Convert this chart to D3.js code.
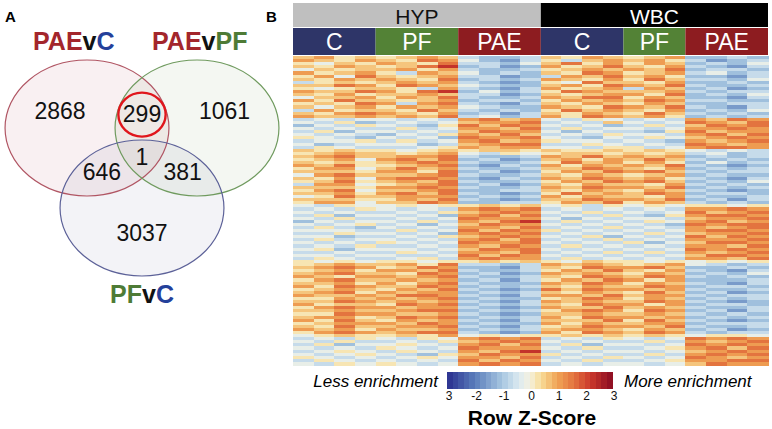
<!DOCTYPE html>
<html>
<head>
<meta charset="utf-8">
<script src="https://cdn.jsdelivr.net/npm/d3@7"></script>
<style>
body{margin:0;background:#fff;}
svg{display:block;font-family:"Liberation Sans",Arial,sans-serif;}
</style>
</head>
<body>
<svg id="fig" width="772" height="429"></svg>
<script>
var svg = d3.select('#fig');

// ---- panel A : venn ----
var sets = ["PAEvC", "PAEvPF", "PFvC"];
var setTitles = [
	[["PAE", "#a3262c"], ["v", "#111"], ["C", "#24409a"]],
	[["PAE", "#a3262c"], ["v", "#111"], ["PF", "#4e7b36"]],
	[["PF", "#4e7b36"], ["v", "#111"], ["C", "#24409a"]]
];
var regions = ["PAEvC only", "PAEvC+PAEvPF", "PAEvPF only", "all", "PAEvC+PFvC", "PAEvPF+PFvC", "PFvC only"];
var counts = [2868, 299, 1061, 1, 646, 381, 3037];

// ---- panel B : heatmap ----
var tissues = ["HYP", "WBC"];
var groups = ["C", "PF", "PAE", "C", "PF", "PAE"];
var groupTissue = [0, 0, 0, 1, 1, 1];
var groupSize = [4, 4, 4, 4, 3, 4];
var legendTicks = ["3", "-2", "-1", "0", "1", "2", "3"];
var zLevels = [-2.2, -1.6, -1.1, -0.65, -0.2, 0.25, 0.65, 1.1, 1.6, 2.3];
// one string per gene row, one digit per sample (index into zLevels)
// columns: HYP C | HYP PF | HYP PAE | WBC C | WBC PF | WBC PAE
var rows = [
"6756 5676 3223 6576 567 2232",
"7657 6587 4213 5367 675 3123",
"5465 7658 3324 6857 576 2324",
"6576 5689 2312 7568 657 3213",
"4656 6757 3223 5676 768 2332",
"7567 5376 4232 6587 567 3423",
"5748 6567 3312 3768 675 2213",
"6576 7658 2323 7657 586 3324",
"3565 6767 3212 5486 657 2232",
"6687 5876 4322 6758 768 3223",
"5456 6537 3213 7567 376 2312",
"7668 7589 2423 5876 667 3233",
"6575 6676 3312 6567 758 2324",
"4667 5768 3223 7688 576 2213",
"7586 6567 2332 5767 687 3322",
"5658 7378 3213 6576 576 2233",
"6467 5767 4322 7658 768 3213",
"3756 6586 3232 5867 657 2324",
"6578 7657 2313 6576 586 3232",
"7667 6768 3423 7587 675 2323",
"3434 4343 7867 4354 343 7687",
"4352 3434 6778 3436 434 8768",
"2435 4325 8687 4342 353 6878",
"4343 3534 7768 3534 434 7787",
"3524 4343 6877 4243 325 8677",
"4343 2435 7686 3435 443 7868",
"5432 4342 8778 4324 354 6787",
"3445 3534 7867 5443 432 7678",
"4234 4423 6788 3354 343 8767",
"3543 3345 7677 4435 534 7887",
"6565 5456 5665 6556 565 4343",
"5676 6567 4354 5665 656 3423",
"6786 6778 3223 7686 767 2323",
"5674 7868 2312 6757 686 3232",
"6565 6787 3223 5867 575 2423",
"7685 5678 2132 7576 768 3212",
"5774 6867 3223 6687 657 2323",
"6665 7758 2312 5768 786 3233",
"4786 6678 3223 6576 567 2322",
"6574 7887 2132 7687 675 3213",
"5685 6768 3223 5768 786 2324",
"3774 5678 2312 6576 657 3232",
"6665 7787 3223 7687 768 2323",
"5784 6678 2233 6576 576 3212",
"6675 7868 3212 5867 687 2332",
"4586 6777 2323 7576 657 3223",
"6665 5768 3212 6687 768 2313",
"5774 6687 2233 5768 576 3232",
"4354 4545 5656 4535 454 5545",
"3435 4343 7878 3434 343 7787",
"4343 3435 6787 4353 434 8678",
"3524 4342 7868 3435 325 7887",
"4353 3434 8777 4243 443 6778",
"2434 4353 7689 3534 354 7867",
"4345 3424 6877 4343 432 8788",
"3532 4343 7768 3435 343 7678",
"4443 3534 8687 5343 434 7887",
"3354 4342 7878 3434 353 6778",
"4423 3435 6787 4352 434 8687",
"3534 4343 7868 3435 343 7778",
"4343 5434 8778 4343 524 6887",
"3435 3343 7687 3534 343 7768",
"4524 4434 6878 4343 434 8787",
"3343 3543 7768 3435 353 7678",
"4434 4334 8687 4343 434 6887",
"3543 3453 7877 3534 343 7768",
"5454 5545 5656 5465 545 4545",
"5676 6758 3323 7676 567 4323",
"6787 5687 2213 6587 786 2232",
"5675 7768 3223 5768 657 3213",
"6786 6587 2312 7676 576 2324",
"7657 7678 3223 6587 687 3232",
"5786 6767 2313 5768 757 2223",
"6675 7578 3222 7687 576 3213",
"7587 6687 2323 6576 687 2332",
"5676 5768 3212 8687 767 3223",
"6785 7677 2323 6576 586 2312",
"7667 6887 3213 7768 677 3233",
"5576 7678 2322 5687 576 2323",
"6687 6767 3213 7676 687 3212",
"7566 5878 2323 6587 757 2332",
"5787 7677 3212 7668 676 3223",
"6676 6788 2323 5787 587 2313",
"5587 7667 3212 6676 676 3232",
"6775 6878 2323 7587 767 2323",
"7586 5767 3213 6668 586 3212",
"5677 7687 2322 7576 677 2333",
"6586 6778 3213 5687 768 3223",
"7675 7667 2323 6776 576 2312",
"5787 6788 3212 7587 687 3233",
"4565 5657 4545 5656 565 4554",
"3435 4354 7878 3435 434 8787",
"4353 3435 6787 4343 353 7678",
"3524 4543 7868 3524 434 8787",
"4343 5434 8777 4353 345 7868",
"3454 3543 7689 3434 434 6787",
"4345 4325 6877 5343 353 7878",
"5434 3454 7768 3435 434 8767",
"3543 4343 8687 4353 345 7788",
"4354 5434 7878 3434 434 6877"
];

// ================= panel A =================
var vx = d3.scaleLinear().domain([-1, 3]).range([32, 252]);
var vy = d3.scaleLinear().domain([0, 1]).range([128, 208]);

// unit layout for a 3-set venn
var ellipses = [
	{cx: 0, cy: 0, fill: "rgba(170,60,80,0.075)", stroke: "#b05563"},
	{cx: 2, cy: 0, fill: "rgba(100,140,70,0.07)", stroke: "#6f9a5e"},
	{cx: 1, cy: 1, fill: "rgba(80,80,140,0.065)", stroke: "#5c6198"}
];
var rxU = 1.49, ryU = 0.85;
var regionPos = [[-0.49, -0.21], [1, -0.18], [2.5, -0.21], [1, 0.36], [0.27, 0.55], [1.74, 0.55], [1, 1.31]];
var titlePos = [[-0.24, -0.975], [2.05, -0.975], [1, 2.19]];

var venn = svg.append("g");

venn.selectAll("ellipse.fill")
	.data(ellipses)
	.enter()
	.append("ellipse")
	.attr("class", "fill")
	.attr("cx", function(d){return vx(d.cx);})
	.attr("cy", function(d){return vy(d.cy);})
	.attr("rx", vx(rxU) - vx(0))
	.attr("ry", vy(ryU) - vy(0))
	.attr("fill", function(d){return d.fill;})
	.attr("stroke", "none");

venn.selectAll("ellipse.line")
	.data(ellipses)
	.enter()
	.append("ellipse")
	.attr("class", "line")
	.attr("cx", function(d){return vx(d.cx);})
	.attr("cy", function(d){return vy(d.cy);})
	.attr("rx", vx(rxU) - vx(0))
	.attr("ry", vy(ryU) - vy(0))
	.attr("fill", "none")
	.attr("stroke", function(d){return d.stroke;})
	.attr("stroke-width", 1.2);

// highlight on the shared PAE set
venn.append("ellipse")
	.attr("cx", vx(regionPos[1][0]))
	.attr("cy", vy(regionPos[1][1]) + 1)
	.attr("rx", vx(0.43) - vx(0))
	.attr("ry", vy(0.275) - vy(0))
	.attr("fill", "none")
	.attr("stroke", "#e0161c")
	.attr("stroke-width", 2.4);

venn.selectAll("text.count")
	.data(counts)
	.enter()
	.append("text")
	.attr("class", "count")
	.attr("x", function(d, i){return vx(regionPos[i][0]);})
	.attr("y", function(d, i){return vy(regionPos[i][1]);})
	.attr("dy", "0.36em")
	.attr("text-anchor", "middle")
	.style("font-size", "23px")
	.style("fill", "#111")
	.text(function(d){return d;});

venn.selectAll("text.title")
	.data(sets)
	.enter()
	.append("text")
	.attr("class", "title")
	.attr("x", function(d, i){return vx(titlePos[i][0]);})
	.attr("y", function(d, i){return vy(titlePos[i][1]);})
	.attr("text-anchor", "middle")
	.style("font-size", "25px")
	.style("font-weight", "bold")
	.each(function(d, i){
		d3.select(this).selectAll("tspan")
			.data(setTitles[i])
			.enter()
			.append("tspan")
			.attr("fill", function(p){return p[1];})
			.text(function(p){return p[0];});
	});

svg.append("text").attr("x", 5).attr("y", 22)
	.style("font-size", "15px").style("font-weight", "bold").text("A");
svg.append("text").attr("x", 266).attr("y", 22)
	.style("font-size", "15px").style("font-weight", "bold").text("B");

// ================= panel B =================
var data = rows.map(function(s){
	return s.replace(/ /g, "").split("").map(function(ch){return zLevels[+ch];});
});
var nCol = data[0].length;

var color = d3.scaleLinear()
	.domain([-3, -2, -1, -0.4, 0, 0.4, 1, 1.6, 2.2, 3])
	.range(["#2a2f8e", "#5a7dbb", "#a8c7e1", "#dceaf1", "#f4f1df", "#f8dd98", "#f0a456", "#e3743f", "#cb392c", "#8a0b22"])
	.clamp(true);

var x = d3.scaleBand().domain(d3.range(nCol)).range([293, 768]);
var y = d3.scaleBand().domain(d3.range(data.length)).range([56, 365]);

var heat = svg.append("g").attr("shape-rendering", "crispEdges");
heat.selectAll("g")
	.data(data)
	.enter()
	.append("g")
	.each(function(row, r){
		d3.select(this).selectAll("rect")
			.data(row)
			.enter()
			.append("rect")
			.attr("x", function(v, c){return x(c);})
			.attr("y", y(r))
			.attr("width", x.bandwidth() + 0.5)
			.attr("height", y.bandwidth() + 0.5)
			.attr("fill", function(v){return color(v);});
	});

// sample group headers
var starts = [];
var acc = 0;
groupSize.forEach(function(n){starts.push(acc); acc += n;});
var groupColor = {"C": "#2e3568", "PF": "#538236", "PAE": "#8d1c20"};

var tissueSpan = tissues.map(function(t, ti){
	var idx = d3.range(groups.length).filter(function(g){return groupTissue[g] == ti;});
	var a = starts[idx[0]];
	var b = starts[idx[idx.length - 1]] + groupSize[idx[idx.length - 1]];
	return [a, b];
});

svg.selectAll("rect.tissue")
	.data(tissues)
	.enter()
	.append("rect")
	.attr("class", "tissue")
	.attr("x", function(d, i){return x(tissueSpan[i][0]);})
	.attr("y", 3)
	.attr("width", function(d, i){return x(tissueSpan[i][1] - 1) + x.bandwidth() - x(tissueSpan[i][0]);})
	.attr("height", 24)
	.attr("fill", function(d, i){return i == 0 ? "#bfbfbf" : "#000";});

svg.selectAll("text.tissue")
	.data(tissues)
	.enter()
	.append("text")
	.attr("class", "tissue")
	.attr("x", function(d, i){return (x(tissueSpan[i][0]) + x(tissueSpan[i][1] - 1) + x.bandwidth()) / 2;})
	.attr("y", 24)
	.attr("text-anchor", "middle")
	.style("font-size", "21px")
	.style("fill", function(d, i){return i == 0 ? "#111" : "#fff";})
	.text(function(d){return d;});

svg.selectAll("rect.group")
	.data(groups)
	.enter()
	.append("rect")
	.attr("class", "group")
	.attr("x", function(d, i){return x(starts[i]);})
	.attr("y", 28)
	.attr("width", function(d, i){return x.bandwidth() * groupSize[i];})
	.attr("height", 27)
	.attr("fill", function(d){return groupColor[d];});

svg.selectAll("text.group")
	.data(groups)
	.enter()
	.append("text")
	.attr("class", "group")
	.attr("x", function(d, i){return x(starts[i]) + x.bandwidth() * groupSize[i] / 2;})
	.attr("y", 49.5)
	.attr("text-anchor", "middle")
	.style("font-size", "23px")
	.style("fill", "#fff")
	.text(function(d){return d;});

// colour key
var lx = d3.scaleLinear().domain([-3, 3]).range([449, 614]);
var steps = d3.range(-3, 3, 0.2);
var key = svg.append("g").attr("shape-rendering", "crispEdges");
key.selectAll("rect")
	.data(steps)
	.enter()
	.append("rect")
	.attr("x", function(d){return lx(d) - 2;})
	.attr("y", 372)
	.attr("width", lx(0.2) - lx(0) + 0.5)
	.attr("height", 17)
	.attr("fill", function(d){return color(d + 0.1);});

svg.selectAll("text.tick")
	.data(legendTicks)
	.enter()
	.append("text")
	.attr("class", "tick")
	.attr("x", function(d, i){return lx(i - 3);})
	.attr("y", 400)
	.attr("text-anchor", "middle")
	.style("font-size", "12px")
	.style("fill", "#111")
	.text(function(d){return d;});

svg.append("text").attr("x", 438).attr("y", 387).attr("text-anchor", "end")
	.style("font-size", "17px").style("font-style", "italic").text("Less enrichment");
svg.append("text").attr("x", 624).attr("y", 387)
	.style("font-size", "17px").style("font-style", "italic").text("More enrichment");
svg.append("text").attr("x", 532).attr("y", 425).attr("text-anchor", "middle")
	.style("font-size", "21px").style("font-weight", "bold").text("Row Z-Score");
</script>
</body>
</html>
